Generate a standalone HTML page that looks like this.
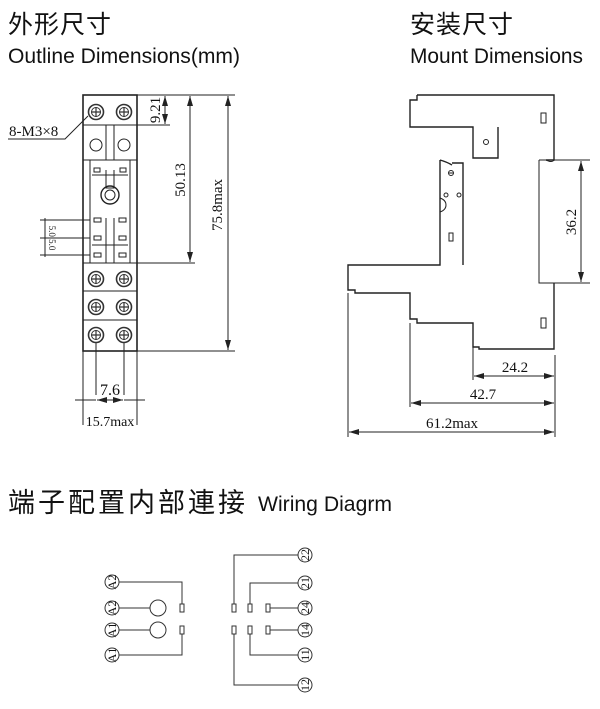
<!DOCTYPE html>
<html><head><meta charset="utf-8"><style>
html,body{margin:0;padding:0;background:#fff;}
svg{display:block;}
.cn{font-family:"Liberation Sans","Noto Sans CJK SC",sans-serif;}
.en{font-family:"Liberation Sans",sans-serif;}
.sr{font-family:"Liberation Serif",serif;}
</style></head><body>
<svg width="600" height="709" viewBox="0 0 600 709" xmlns="http://www.w3.org/2000/svg">
<defs>
<marker id="e" viewBox="0 0 10 6" refX="10" refY="3" markerWidth="10" markerHeight="6" orient="auto" markerUnits="userSpaceOnUse"><path d="M0,0L10,3L0,6z" fill="#222"/></marker>
<marker id="s" viewBox="0 0 10 6" refX="0" refY="3" markerWidth="10" markerHeight="6" orient="auto" markerUnits="userSpaceOnUse"><path d="M10,0L0,3L10,6z" fill="#222"/></marker>
<g id="scr"><circle r="7.5" fill="#fff" stroke="#333" stroke-width="1.6"/><circle r="4.5" fill="none" stroke="#333" stroke-width="1"/><path d="M-5,0H5M0,-5V5" stroke="#333" stroke-width="1.2"/></g>
</defs>
<text x="8" y="33" class="cn" font-size="25" letter-spacing="1" fill="#111">外形尺寸</text>
<text x="8" y="63" class="en" font-size="21" textLength="232" lengthAdjust="spacingAndGlyphs" fill="#111">Outline Dimensions(mm)</text>
<text x="410" y="33" class="cn" font-size="25" letter-spacing="1" fill="#111">安装尺寸</text>
<text x="410" y="63" class="en" font-size="21" textLength="173" lengthAdjust="spacingAndGlyphs" fill="#111">Mount Dimensions</text>
<text x="8" y="512" class="cn" font-size="27" letter-spacing="3" fill="#111">端子配置内部連接</text>
<text x="258" y="511" class="en" font-size="21" textLength="134" lengthAdjust="spacingAndGlyphs" fill="#111">Wiring Diagrm</text>

<g stroke="#222" fill="none" stroke-width="1">
<rect x="83" y="95" width="54" height="256" stroke-width="1.6"/>
<path d="M83,125H137M83,160H137M83,263H137M83,291H137M83,320H137M90,160V263M130,160V263M92,175H128M92,245H128"/>
<path d="M106,125V160M114,125V160M106,218V263M114,218V263M106,170V188H114V170"/>
<circle cx="96" cy="145" r="6"/><circle cx="124" cy="145" r="6"/>
<circle cx="110" cy="195" r="9" stroke-width="1.4"/><circle cx="110" cy="195" r="5"/>
<rect x="94" y="168" width="6" height="4"/><rect x="120" y="168" width="6" height="4"/>
<rect x="94" y="218" width="7" height="4"/><rect x="119" y="218" width="7" height="4"/>
<rect x="94" y="236" width="7" height="4"/><rect x="119" y="236" width="7" height="4"/>
<rect x="94" y="253" width="7" height="4"/><rect x="119" y="253" width="7" height="4"/>
<path d="M137,95H235M137,125H170M137,263H195M137,351H235"/>
<path d="M165,96V124" marker-start="url(#s)" marker-end="url(#e)"/>
<path d="M190,96V262" marker-start="url(#s)" marker-end="url(#e)"/>
<path d="M228,96V350" marker-start="url(#s)" marker-end="url(#e)"/>
<path d="M40,220H90M40,238H90M40,255H90M45,218V257"/>
<path d="M8,139H65L88,116"/>
<path d="M83,351V425M137,351V425M96,340V395M124,340V395M75,400H96M124,400H145"/>
<path d="M97,400H123" marker-start="url(#s)" marker-end="url(#e)"/>
</g>
<use href="#scr" x="96" y="112"/><use href="#scr" x="124" y="112"/>
<use href="#scr" x="96" y="279"/><use href="#scr" x="124" y="279"/>
<use href="#scr" x="96" y="307"/><use href="#scr" x="124" y="307"/>
<use href="#scr" x="96" y="335"/><use href="#scr" x="124" y="335"/>
<g class="sr" font-size="15" fill="#111">
<text x="9" y="136">8-M3×8</text>
<text transform="translate(160,110) rotate(-90)" text-anchor="middle">9.21</text>
<text transform="translate(185,180) rotate(-90)" text-anchor="middle">50.13</text>
<text transform="translate(222,205) rotate(-90)" text-anchor="middle">75.8max</text>
<text transform="translate(49,238) rotate(90)" text-anchor="middle" font-size="9">5.0  5.0</text>
<text x="110" y="395" text-anchor="middle" font-size="16">7.6</text>
<text x="110" y="426" text-anchor="middle" font-size="14">15.7max</text>
</g>

<g stroke="#222" fill="none" stroke-width="1.4">
<path d="M417,95H554V160H546M417,95V100H410V127H473V158H498V127"/>
<path d="M440,160V265H348V290H355V293H410V319H417V323H473V347H479V349H554V283"/>
<path d="M440,160Q447,162 452,165M452,163H463V265"/>
<path d="M440,198Q446,200 446,205Q446,210 440,212" stroke-width="1"/>
</g>
<g stroke="#222" fill="none" stroke-width="1">
<path d="M539,160V283H554M539,160H546Q552,163 554,160"/>
<circle cx="486" cy="142" r="2.5"/><circle cx="451" cy="173" r="2.5"/><path d="M448.5,173H453.5"/>
<circle cx="446" cy="195" r="2"/><circle cx="459" cy="195" r="2"/>
<rect x="449" y="233" width="4" height="8"/><rect x="541" y="113" width="5" height="10"/><rect x="541" y="318" width="5" height="10"/>
<path d="M554,160H590M554,283H590M473,347V380M555,355V437M410,323V407M348,293V437"/>
<path d="M581,161V282" marker-start="url(#s)" marker-end="url(#e)"/>
<path d="M474,376H554" marker-start="url(#s)" marker-end="url(#e)"/>
<path d="M411,403H554" marker-start="url(#s)" marker-end="url(#e)"/>
<path d="M349,432H554" marker-start="url(#s)" marker-end="url(#e)"/>
</g>
<g class="sr" font-size="15" fill="#111">
<text transform="translate(576,222) rotate(-90)" text-anchor="middle">36.2</text>
<text x="515" y="372" text-anchor="middle">24.2</text>
<text x="483" y="399" text-anchor="middle">42.7</text>
<text x="452" y="428" text-anchor="middle">61.2max</text>
</g>

<g stroke="#333" fill="none" stroke-width="1">
<path d="M118,582H182V604M118,608H150M118,630H150M118,655H182V634"/>
<circle cx="158" cy="608" r="8"/><circle cx="158" cy="630" r="8"/>
<rect x="180" y="604" width="4" height="8"/><rect x="180" y="626" width="4" height="8"/>
<rect x="232" y="604" width="4" height="8"/><rect x="248" y="604" width="4" height="8"/><rect x="266" y="604" width="4" height="8"/>
<rect x="232" y="626" width="4" height="8"/><rect x="248" y="626" width="4" height="8"/><rect x="266" y="626" width="4" height="8"/>
<path d="M299,555H234V604M299,583H250V604M270,608H299M270,630H299M250,634V655H299M234,634V685H299"/>
<g fill="#fff"><circle cx="112" cy="582" r="7"/><circle cx="112" cy="608" r="7"/><circle cx="112" cy="630" r="7"/><circle cx="112" cy="655" r="7"/>
<circle cx="305" cy="555" r="7"/><circle cx="305" cy="583" r="7"/><circle cx="305" cy="608" r="7"/><circle cx="305" cy="630" r="7"/><circle cx="305" cy="655" r="7"/><circle cx="305" cy="685" r="7"/></g>
</g>
<g class="sr" font-size="12" fill="#111" text-anchor="middle">
<text transform="translate(116,582) rotate(-90)">A2</text>
<text transform="translate(116,608) rotate(-90)">A2</text>
<text transform="translate(116,630) rotate(-90)">A1</text>
<text transform="translate(116,655) rotate(-90)">A1</text>
<text transform="translate(309,555) rotate(-90)">22</text>
<text transform="translate(309,583) rotate(-90)">21</text>
<text transform="translate(309,608) rotate(-90)">24</text>
<text transform="translate(309,630) rotate(-90)">14</text>
<text transform="translate(309,655) rotate(-90)">11</text>
<text transform="translate(309,685) rotate(-90)">12</text>
</g>
</svg>
</body></html>
